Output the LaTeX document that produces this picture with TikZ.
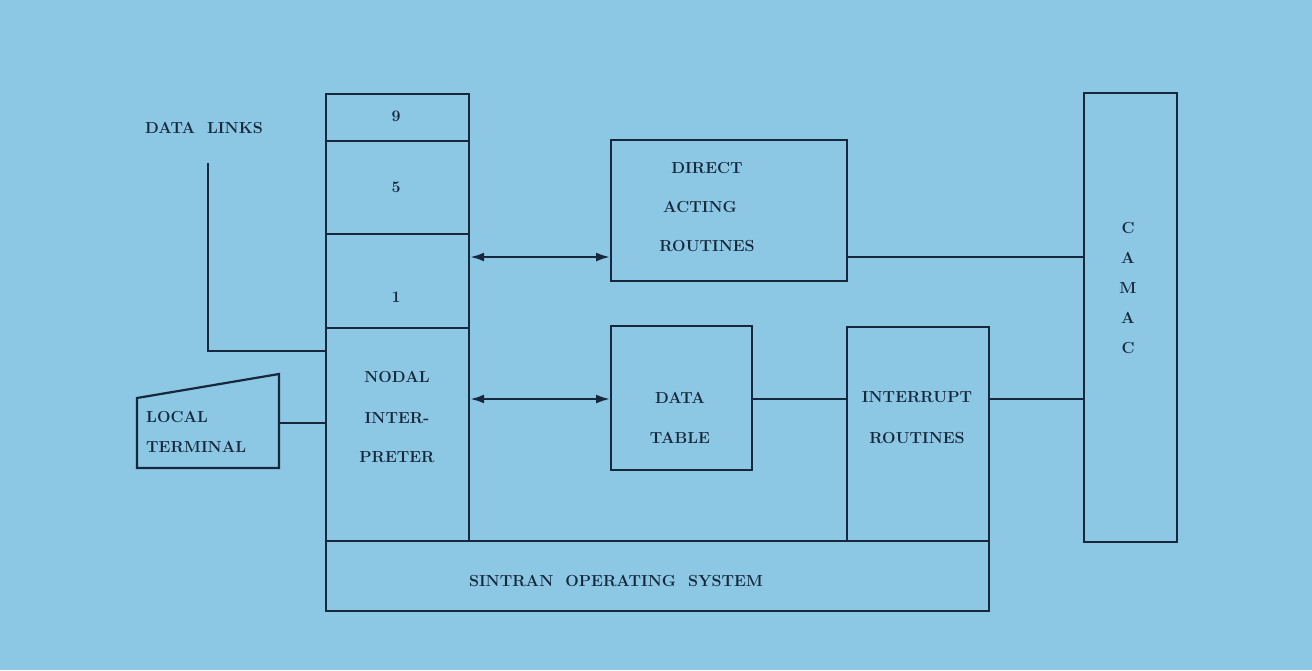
\documentclass[tikz,border=0pt]{standalone}
\usetikzlibrary{arrows.meta,calc}
\definecolor{bg}{HTML}{8CC7E3}
\definecolor{ink}{HTML}{16283D}
\begin{document}
\begin{tikzpicture}[x=1pt,y=-1pt,
  box/.style={draw=ink,line width=2.2pt,anchor=north west,inner sep=0pt},
  lbl/.style={text=ink,font=\fontsize{16}{19}\selectfont\bfseries,inner sep=0pt,align=center},
  conn/.style={draw=ink,line width=2.2pt},
  dbl/.style={conn,{Latex[length=14pt,width=9pt]}-{Latex[length=14pt,width=9pt]}}]
\fill[bg] (0,0) rectangle (1312,670);
\useasboundingbox (0,0) rectangle (1312,670);
% left stack
\node[box,minimum width=143pt,minimum height=47pt] (s9) at (325,93) {};
\node[box,minimum width=143pt,minimum height=93pt] (s5) at (325,140) {};
\node[box,minimum width=143pt,minimum height=94pt] (s1) at (325,233) {};
\node[box,minimum width=143pt,minimum height=213pt] (nodal) at (325,327) {};
\node[box,minimum width=663pt,minimum height=70pt] (sintran) at (325,540) {};
\node[box,minimum width=236pt,minimum height=141pt] (direct) at (610,139) {};
\node[box,minimum width=141pt,minimum height=144pt] (dtable) at (610,325) {};
\node[box,minimum width=142pt,minimum height=214pt] (intr) at (846,326) {};
\node[box,minimum width=93pt,minimum height=449pt] (camac) at (1083,92) {};
% labels
\node[lbl] (t9) at (396,116) {9};
\node[lbl] (t5) at (396,187) {5};
\node[lbl] (t1) at (396,297) {1};
\node[lbl] (tn1) at (397,377) {NODAL};
\node[lbl] (tn2) at (397,418) {INTER-};
\node[lbl] (tn3) at (397,457) {PRETER};
\node[lbl] (td1) at (707,168) {DIRECT};
\node[lbl] (td2) at (700,207) {ACTING};
\node[lbl] (td3) at (707,246) {ROUTINES};
\node[lbl] (tt1) at (680,398) {DATA};
\node[lbl] (tt2) at (680,438) {TABLE};
\node[lbl] (ti1) at (917,397) {INTERRUPT};
\node[lbl] (ti2) at (917,438) {ROUTINES};
\node[lbl] (ts) at (616,581) {SINTRAN\ \ OPERATING\ \ SYSTEM};
\node[lbl] (tc) at (1128,288) {C\\[11pt]A\\[11pt]M\\[11pt]A\\[11pt]C};
\node[lbl] (tdl) at (204,128) {DATA\ \ LINKS};
\node[lbl,align=left,anchor=west] (tlt) at (146,432) {LOCAL\\[11pt]TERMINAL};
% local terminal shape
\draw[conn] (137,398) -- (279,374) -- (279,468) -- (137,468) -- cycle;
\coordinate (ltr) at (279,423);
% connectors
\coordinate (ya) at (0,257);
\coordinate (yb) at (0,399);
\coordinate (yc) at (0,351);
\coordinate (dlend) at (208,163);
\draw[dbl] (s1.east |- ya) -- (direct.west |- ya);
\draw[dbl] (nodal.east |- yb) -- (dtable.west |- yb);
\draw[conn] (direct.east |- ya) -- (camac.west |- ya);
\draw[conn] (dtable.east |- yb) -- (intr.west |- yb);
\draw[conn] (intr.east |- yb) -- (camac.west |- yb);
\draw[conn] (dlend) |- (nodal.west |- yc);
\draw[conn] (ltr) -- (nodal.west |- ltr);
\end{tikzpicture}
\end{document}
